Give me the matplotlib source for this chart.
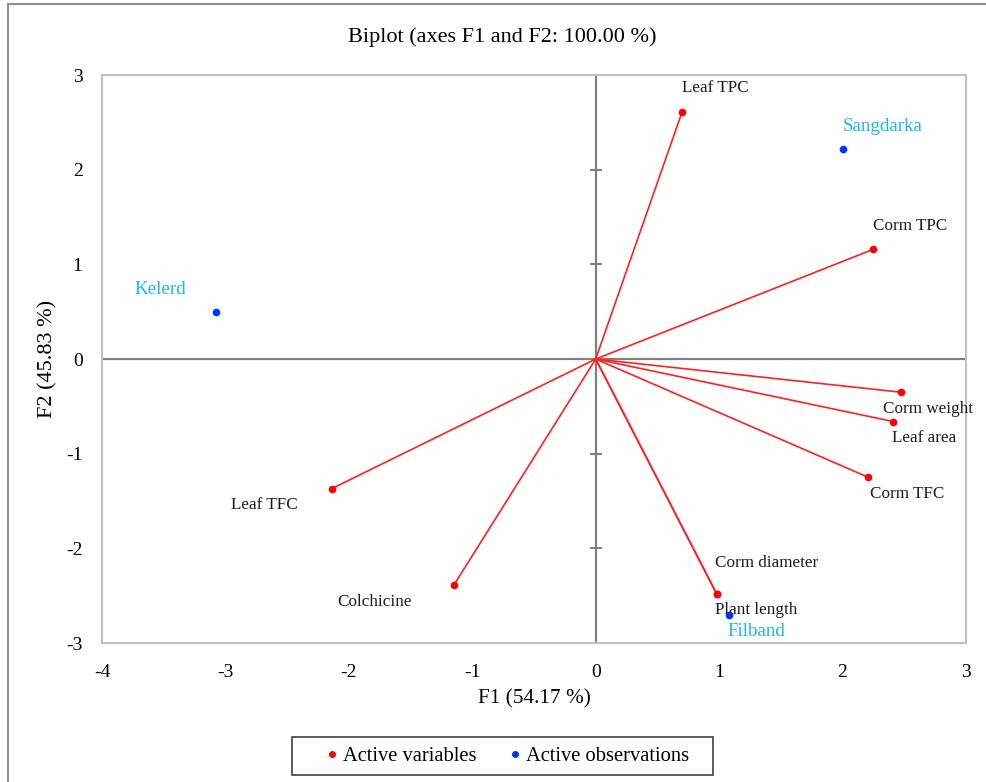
import matplotlib
matplotlib.use("Agg")
import matplotlib.pyplot as plt
from matplotlib.patches import Rectangle
from matplotlib.lines import Line2D

plt.rcParams['font.family'] = ['Liberation Serif', 'DejaVu Serif']
plt.rcParams['axes.unicode_minus'] = False

# Variables (active variables)
var_names = ["Leaf TPC", "Corm TPC", "Corm weight", "Leaf area", "Corm TFC",
             "Corm diameter", "Plant length", "Leaf TFC", "Colchicine"]
var_f1 = [0.70, 2.25, 2.47, 2.41, 2.21, 0.98, 0.98, -2.14, -1.15]
var_f2 = [2.61, 1.16, -0.35, -0.66, -1.25, -2.48, -2.48, -1.37, -2.39]

# Observations
obs_names = ["Sangdarka", "Kelerd", "Filband"]
obs_f1 = [2.00, -3.08, 1.08]
obs_f2 = [2.22, 0.50, -2.70]

xticks = [-4, -3, -2, -1, 0, 1, 2, 3]
yticks = [-3, -2, -1, 0, 1, 2, 3]

# label offsets in points (dx, dy) and alignment
var_lab = {
    "Leaf TPC": (0, 17, 'left'),
    "Corm TPC": (0, 17, 'left'),
    "Corm weight": (-13, -12, 'left'),
    "Leaf area": (-1, -12, 'left'),
    "Corm TFC": (1, -12, 'left'),
    "Corm diameter": (-1, 22, 'left'),
    "Plant length": (-1, -12, 'left'),
    "Leaf TFC": (-24, -12, 'right'),
    "Colchicine": (-30, -12, 'right'),
}
obs_lab = {
    "Sangdarka": (0, 16, 'left'),
    "Kelerd": (-21, 16, 'right'),
    "Filband": (-1, -12, 'left'),
}

fig = plt.figure(figsize=(9.86, 7.82), dpi=100)
ax = fig.add_axes([0.1034, 0.1777, 0.8763, 0.7263])

ax.set_xlim(-4, 3)
ax.set_ylim(-3, 3)

for s in ax.spines.values():
    s.set_color('#c0c0c0')
    s.set_linewidth(1.5)

ax.axhline(0, color='#808080', lw=1.6, zorder=1)
ax.axvline(0, color='#808080', lw=1.6, zorder=1)

# small tick marks on the vertical zero line
ax.plot([0] * len(yticks), yticks, ls='none', marker='_', ms=9, mew=1.4, color='#808080', zorder=1, clip_on=False)

ax.set_xticks(xticks)
ax.set_yticks(yticks)
ax.tick_params(length=0, labelsize=14)
ax.tick_params(axis='x', pad=15)
ax.tick_params(axis='y', pad=14)

for n, x, y in zip(var_names, var_f1, var_f2):
    ax.plot([0, x], [0, y], color='#ff2020', lw=1.2, zorder=2)
    ax.plot(x, y, 'o', color='#ff0000', ms=4.5, zorder=3)
    dx, dy, ha = var_lab[n]
    ax.annotate(n, (x, y), xytext=(dx, dy), textcoords='offset points',
                ha=ha, va='center', fontsize=12.3, color='#1a1a1a')

for n, x, y in zip(obs_names, obs_f1, obs_f2):
    ax.plot(x, y, 'o', color='#0033ff', ms=4.5, zorder=3)
    dx, dy, ha = obs_lab[n]
    ax.annotate(n, (x, y), xytext=(dx, dy), textcoords='offset points',
                ha=ha, va='center', fontsize=13.7, color='#1eb4f0')

fig.text(0.509, 0.953, "Biplot (axes F1 and F2: 100.00 %)", fontsize=16,
         ha='center', va='center')
ax.set_xlabel("F1 (54.17 %)", fontsize=15.3, labelpad=6)
ax.set_ylabel("F2 (45.83 %)", fontsize=16, labelpad=6)

handles = [Line2D([], [], ls='none', marker='o', ms=4, color='#ff0000'),
           Line2D([], [], ls='none', marker='o', ms=4, color='#0033ff')]
leg = fig.legend(handles, ["Active variables", "Active observations"], loc='center',
                 bbox_to_anchor=(0.5135, 0.0325), ncol=2, fontsize=14.8, frameon=False,
                 handletextpad=0.15, columnspacing=1.45, handlelength=0.8)

fig.patches.append(Rectangle((0.2961, 0.00895), 0.427, 0.0486, transform=fig.transFigure,
                             fill=False, edgecolor='#404040', lw=1.2))
fig.patches.append(Rectangle((0.008, -0.02), 1.05, 1.015, transform=fig.transFigure,
                             fill=False, edgecolor='#909090', lw=1.5))

fig.savefig("out.png", dpi=100)
